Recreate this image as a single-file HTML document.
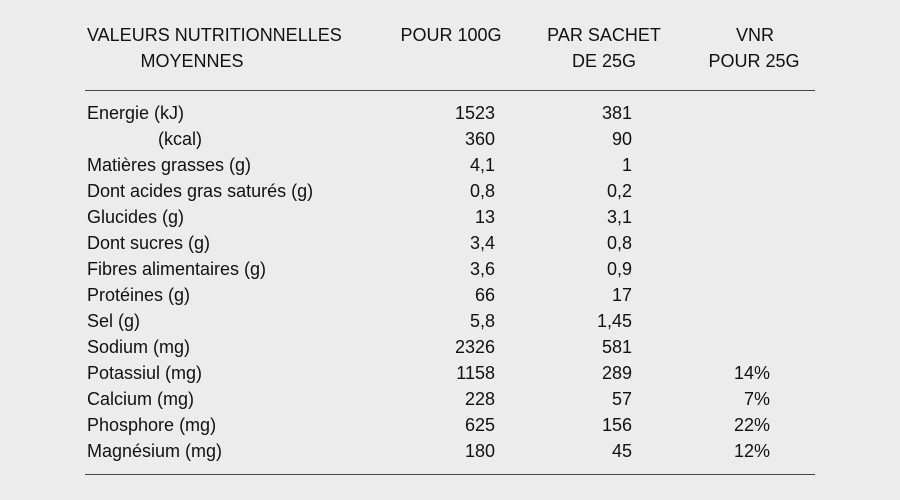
<!DOCTYPE html>
<html><head><meta charset="utf-8"><style>
html,body{margin:0;padding:0}
body{width:900px;height:500px;background:#ececec;position:relative;font-family:"Liberation Sans",sans-serif;font-size:18px;color:#111;overflow:hidden}
.t{position:absolute;white-space:nowrap;line-height:20px}
.c{transform:translateX(-50%)}
.r{transform:translateX(-100%)}
.hr{position:absolute;left:85px;width:730px;height:1px;background:#444}
</style></head><body>
<div class="t" style="left:87px;top:25px">VALEURS NUTRITIONNELLES</div>
<div class="t c" style="left:192px;top:51px">MOYENNES</div>
<div class="t c" style="left:451px;top:25px">POUR 100G</div>
<div class="t c" style="left:604px;top:25px">PAR SACHET</div>
<div class="t c" style="left:604px;top:51px">DE 25G</div>
<div class="t c" style="left:755px;top:25px">VNR</div>
<div class="t c" style="left:754px;top:51px">POUR 25G</div>
<div class="hr" style="top:90px"></div>
<div class="hr" style="top:474px"></div>
<div id="rows"></div>
<script>
var d=[["Energie (kJ)","1523","381",""],["(kcal)","360","90",""],["Matières grasses (g)","4,1","1",""],["Dont acides gras saturés (g)","0,8","0,2",""],["Glucides (g)","13","3,1",""],["Dont sucres (g)","3,4","0,8",""],["Fibres alimentaires (g)","3,6","0,9",""],["Protéines (g)","66","17",""],["Sel (g)","5,8","1,45",""],["Sodium (mg)","2326","581",""],["Potassiul (mg)","1158","289","14%"],["Calcium (mg)","228","57","7%"],["Phosphore (mg)","625","156","22%"],["Magnésium (mg)","180","45","12%"]];
var h="";d.forEach(function(r,i){var y=103+i*26;
h+='<div class="t" style="left:'+(i==1?158:87)+'px;top:'+y+'px">'+r[0]+'</div>';
h+='<div class="t r" style="left:495px;top:'+y+'px">'+r[1]+'</div>';
h+='<div class="t r" style="left:632px;top:'+y+'px">'+r[2]+'</div>';
if(r[3])h+='<div class="t r" style="left:770px;top:'+y+'px">'+r[3]+'</div>';});
document.getElementById("rows").innerHTML=h;
</script>
</body></html>
